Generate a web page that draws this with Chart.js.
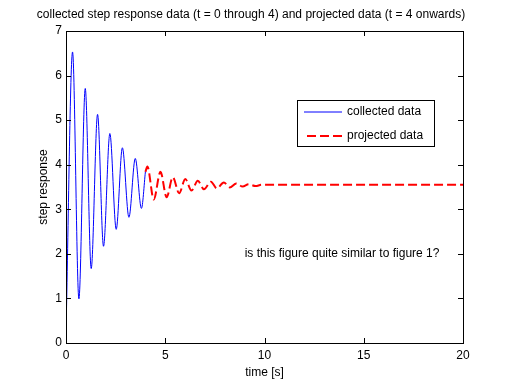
<!DOCTYPE html>
<html>
<head>
<meta charset="utf-8">
<script src="https://cdn.jsdelivr.net/npm/chart.js@4.4.1/dist/chart.umd.min.js"></script>
<style>
  html, body { margin: 0; padding: 0; background: #fff; }
  #wrap { width: 512px; height: 384px; }
</style>
</head>
<body>
<div id="wrap"><canvas id="stepChart"></canvas></div>
<script>
// collected data (t = 0 .. 4), read at the peaks / troughs
const collectedT = [0, 0.33, 0.65, 0.97, 1.27, 1.59, 1.89, 2.21, 2.53, 2.84, 3.17, 3.49, 3.80, 4.0];
const collectedY = [0.25, 6.53, 0.99, 5.71, 1.67, 5.13, 2.17, 4.70, 2.55, 4.38, 2.82, 4.14, 3.02, 3.84];

// projected data (t = 4 onwards)
const projectedT = [4.0, 4.1, 4.42, 4.76, 5.07, 5.38, 5.70, 6.01, 6.32, 6.64, 6.95, 7.30, 7.60, 7.95, 8.25, 8.58, 8.90, 9.20, 9.55, 9.85, 10.2, 20];
const projectedY = [3.84, 3.96, 3.22, 3.84, 3.27, 3.72, 3.36, 3.68, 3.42, 3.64, 3.45, 3.62, 3.47, 3.60, 3.49, 3.58, 3.51, 3.56, 3.52, 3.55, 3.55, 3.55];

const xTicks = [0, 5, 10, 15, 20];
const yTicks = [0, 1, 2, 3, 4, 5, 6, 7];

const FONT = '"Liberation Sans", Arial, Helvetica, sans-serif';

function toPoints(xs, ys) {
    return xs.map((x, i) => ({ x: x, y: ys[i] }));
}

// box, inward ticks on all 4 sides, title, text label and legend
const matlabAxes = {
    id: 'matlabAxes',
    afterDraw(chart) {
        const { ctx, chartArea: a, scales } = chart;
        const xs = scales.x, ys = scales.y;
        const tl = 5;
        ctx.save();
        ctx.strokeStyle = '#000';
        ctx.lineWidth = 1;
        ctx.strokeRect(Math.round(a.left) + 0.5, Math.round(a.top) + 0.5,
            Math.round(a.right - a.left), Math.round(a.bottom - a.top));
        ctx.beginPath();
        xTicks.forEach(v => {
            const px = Math.round(xs.getPixelForValue(v)) + 0.5;
            ctx.moveTo(px, a.bottom); ctx.lineTo(px, a.bottom - tl);
            ctx.moveTo(px, a.top); ctx.lineTo(px, a.top + tl);
        });
        yTicks.forEach(v => {
            const py = Math.round(ys.getPixelForValue(v)) + 0.5;
            ctx.moveTo(a.left, py); ctx.lineTo(a.left + tl, py);
            ctx.moveTo(a.right, py); ctx.lineTo(a.right - tl, py);
        });
        ctx.stroke();

        // title
        ctx.fillStyle = '#000';
        ctx.font = '12px ' + FONT;
        ctx.textAlign = 'center';
        ctx.textBaseline = 'middle';
        ctx.fillText('collected step response data (t = 0 through 4) and projected data (t = 4 onwards)', 251, 15);

        // text(9, 2, ...)
        ctx.textAlign = 'left';
        ctx.fillText('is this figure quite similar to figure 1?', xs.getPixelForValue(9), ys.getPixelForValue(2));

        // legend
        const lx = 297, ly = 100, lw = 137, lh = 46;
        ctx.fillStyle = '#fff';
        ctx.fillRect(lx, ly, lw, lh);
        ctx.strokeStyle = '#000';
        ctx.lineWidth = 1;
        ctx.strokeRect(lx + 0.5, ly + 0.5, lw, lh);
        chart.data.datasets.forEach((ds, i) => {
            const y = ly + 12 + i * 24;
            ctx.beginPath();
            ctx.strokeStyle = ds.borderColor;
            ctx.lineWidth = ds.borderWidth;
            ctx.setLineDash(ds.borderDash || []);
            ctx.moveTo(i ? 307 : 304, y);
            ctx.lineTo(342, y);
            ctx.stroke();
            ctx.setLineDash([]);
            ctx.fillStyle = '#000';
            ctx.fillText(ds.label, 347, y);
        });
        ctx.restore();
    }
};

new Chart(document.getElementById('stepChart'), {
    type: 'line',
    data: {
        datasets: [
            {
                label: 'collected data',
                data: toPoints(collectedT, collectedY),
                borderColor: '#0000ff',
                borderWidth: 1,
                pointRadius: 0,
                cubicInterpolationMode: 'monotone',
                fill: false
            },
            {
                label: 'projected data',
                data: toPoints(projectedT, projectedY),
                borderColor: '#ff0000',
                borderWidth: 2,
                borderDash: [9, 4],
                pointRadius: 0,
                cubicInterpolationMode: 'monotone',
                fill: false
            }
        ]
    },
    options: {
        responsive: true,
        maintainAspectRatio: false,
        animation: false,
        layout: { padding: { left: 0, top: 31, right: 49, bottom: 0 } },
        plugins: {
            legend: { display: false },
            title: { display: false },
            tooltip: { enabled: false }
        },
        scales: {
            x: {
                type: 'linear',
                min: 0, max: 20,
                afterFit: (s) => { s.height = 41; },
                afterBuildTicks: (s) => { s.ticks = xTicks.map(v => ({ value: v })); },
                grid: { display: false, drawTicks: false, tickLength: 0 },
                border: { display: false },
                ticks: { color: '#000', padding: 5, font: { family: FONT, size: 12 } },
                title: { display: true, text: 'time [s]', color: '#000', padding: { top: 0, bottom: 4 }, font: { family: FONT, size: 12 } }
            },
            y: {
                type: 'linear',
                min: 0, max: 7,
                afterFit: (s) => { s.width = 66; },
                afterBuildTicks: (s) => { s.ticks = yTicks.map(v => ({ value: v })); },
                grid: { display: false, drawTicks: false, tickLength: 0 },
                border: { display: false },
                ticks: { color: '#000', padding: 4, font: { family: FONT, size: 12 } },
                title: { display: true, text: 'step response', color: '#000', padding: { top: 36, bottom: 0 }, font: { family: FONT, size: 12 } }
            }
        }
    },
    plugins: [matlabAxes]
});
</script>
</body>
</html>
